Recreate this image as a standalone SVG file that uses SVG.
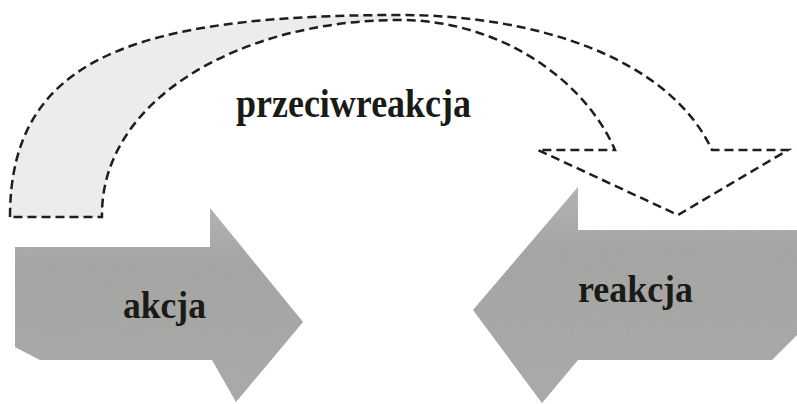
<svg xmlns="http://www.w3.org/2000/svg" width="797" height="404" viewBox="0 0 797 404">
  <defs>
    <style>
      .lbl { font-family: "Liberation Serif", "Times New Roman", serif; font-weight: bold; fill: #1a1a16; }
      .dash { fill: none; stroke: #1e1e1e; stroke-width: 2.5; stroke-dasharray: 9 5; stroke-linejoin: miter; }
      .block { fill: url(#blockShade); filter: url(#grain); }
    </style>
    <linearGradient id="blockShade" x1="0" y1="0" x2="0" y2="1">
      <stop offset="0" stop-color="#b2b2b0"/>
      <stop offset="0.3" stop-color="#a0a09e"/>
      <stop offset="1" stop-color="#a6a6a4"/>
    </linearGradient>
    <filter id="grain" x="0" y="0" width="100%" height="100%">
      <feTurbulence type="fractalNoise" baseFrequency="0.95" numOctaves="2" seed="3" result="noise"/>
      <feColorMatrix in="noise" type="matrix" values="0 0 0 0 0.45  0 0 0 0 0.45  0 0 0 0 0.45  0 0 0 0.6 -0.05" result="gnoise"/>
      <feComposite in="gnoise" in2="SourceGraphic" operator="in" result="clipped"/>
      <feMerge>
        <feMergeNode in="SourceGraphic"/>
        <feMergeNode in="clipped"/>
      </feMerge>
    </filter>
  </defs>

  <rect width="797" height="404" fill="#ffffff"/>

  <!-- curved counter-reaction arrow -->
  <g id="counter-arrow">
    <!-- shaded rear band on the left -->
    <path d="M10,217 C10,60 130,15 400,15 L400,20 C240,20 100,100 102,217 Z" fill="#ececec"/>
    <path class="dash" d="M10,217 C10,60 130,15 400,15 C540,15 670,60 712,150 L788,150 L678,215 L538,150 L615,150 C585,80 500,20 400,20 C240,20 100,100 102,217 Z"/>
    <text class="lbl" x="236" y="117" font-size="40" textLength="235" lengthAdjust="spacingAndGlyphs">przeciwreakcja</text>
  </g>

  <!-- action arrow -->
  <g id="action">
    <polygon class="block" points="15,247 210,247 210,208 303,322 236,402 212,360 40,360 15,347"/>
    <text class="lbl" x="123" y="318" font-size="37" textLength="83" lengthAdjust="spacingAndGlyphs">akcja</text>
  </g>

  <!-- reaction arrow -->
  <g id="reaction">
    <polygon class="block" points="797,230 578,230 578,187 473,310 542,403 578,360 772,360 797,335"/>
    <text class="lbl" x="578" y="302" font-size="37" textLength="115" lengthAdjust="spacingAndGlyphs">reakcja</text>
  </g>
</svg>
